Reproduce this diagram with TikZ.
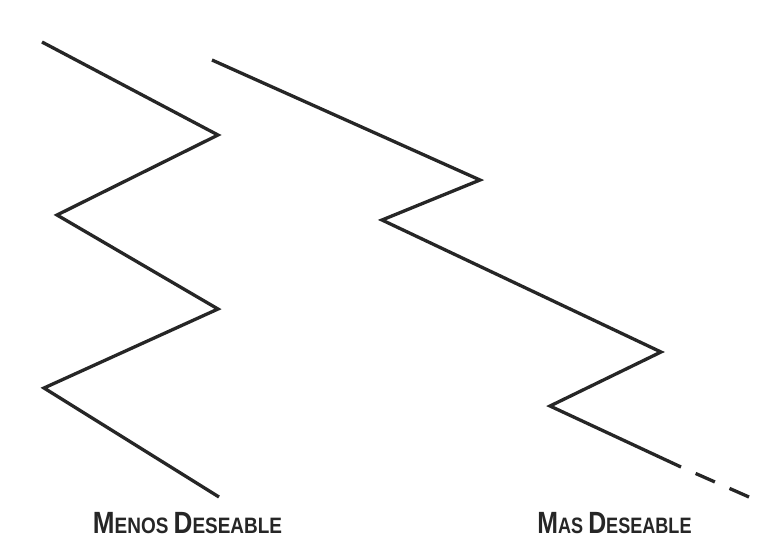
\documentclass[tikz,border=0pt]{standalone}
\usepackage{fontspec}
\usepackage{graphicx}
\setmainfont{Liberation Sans}
\definecolor{ink}{HTML}{262626}
\newcommand{\fakesc}[2]{{\fontsize{30.7}{31}\selectfont #1}#2}
\tikzset{
  zig/.style={draw=ink, line width=3.3pt, line join=miter, line cap=butt},
  lbl/.style={anchor=base, inner sep=0pt, text=ink, font=\bfseries\fontsize{22.3}{23}\selectfont}
}
\begin{document}
\begin{tikzpicture}[x=1pt,y=-1pt]
\useasboundingbox[fill=white] (0,0) rectangle (773,539);
% left zigzag
\coordinate (a1) at (42,42);
\coordinate (a2) at (218,135);
\coordinate (a3) at (57,215);
\coordinate (a4) at (218,309);
\coordinate (a5) at (44,388);
\coordinate (a6) at (219,497);
\draw[zig] (a1) -- (a2) -- (a3) -- (a4) -- (a5) -- (a6);
% right zigzag
\coordinate (b1) at (212,60);
\coordinate (b2) at (480,180);
\coordinate (b3) at (382,220);
\coordinate (b4) at (661,352);
\coordinate (b5) at (550,406);
\coordinate (b6) at (681,467);
\coordinate (b7) at (749,497);
\draw[zig] (b1) -- (b2) -- (b3) -- (b4) -- (b5) -- (b6);
\draw[zig, dash pattern=on 0pt off 16pt on 21pt off 16pt on 22pt] (b6) -- (b7);
% labels
\node[lbl] (l1) at (187.5,533.5) {\scalebox{0.85}[1]{\fakesc{M}{ENOS} \fakesc{D}{ESEABLE}}};
\node[lbl] (l2) at (614.5,533.5) {\scalebox{0.81}[1]{\fakesc{M}{AS} \fakesc{D}{ESEABLE}}};
\end{tikzpicture}
\end{document}
